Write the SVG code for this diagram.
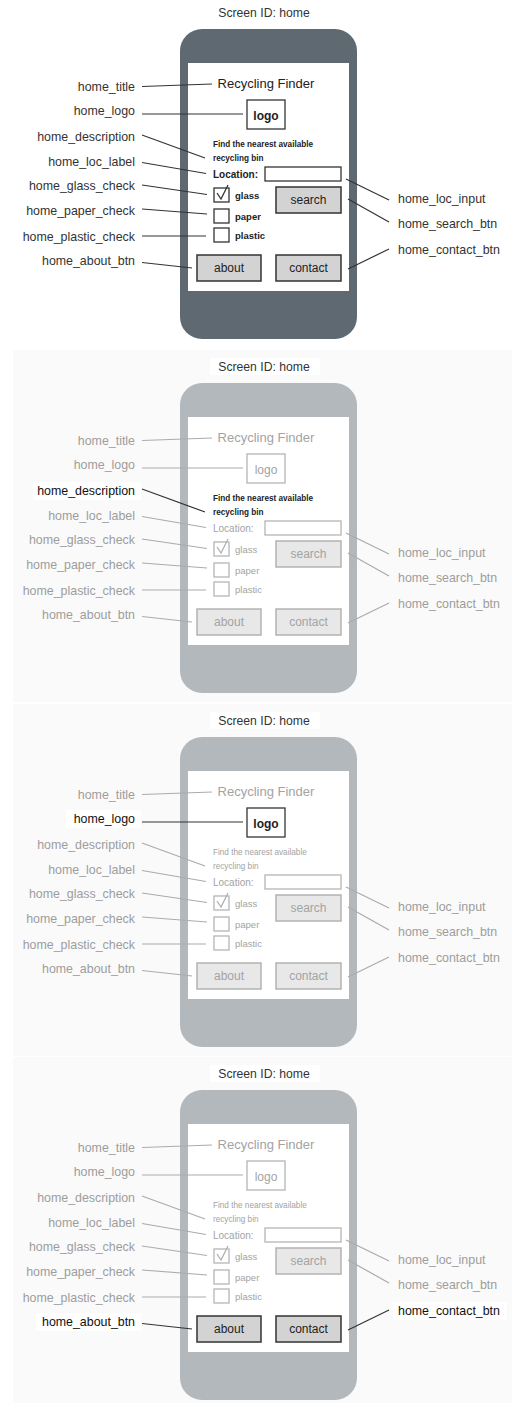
<svg xmlns="http://www.w3.org/2000/svg" width="512" height="1403" viewBox="0 0 512 1403">
<style>
.bg{fill:#fafafa}
.wh{fill:#fff}
.phone{fill:#5e6971}
.phone.d{fill:#b3b8bc}
.screen{fill:#fff}
.sid{font-family:"Liberation Sans",Arial,sans-serif;font-size:12.2px;fill:#333;text-anchor:middle}
.lbl{font-family:"Liberation Sans",Arial,sans-serif;font-size:12.4px;fill:#333}
.lbl.d{fill:#9d9d9d}
.r{text-anchor:end}
.c{stroke:#333;stroke-width:1.2;fill:none}
.c.d{stroke:#ababab}
.ui{font-family:"Comic Sans MS","Liberation Sans",sans-serif;fill:#222}
.ui.d{fill:#a3a3a3}
.m{text-anchor:middle}
.b{font-weight:bold}
.t13{font-size:13px}
.t12{font-size:12px}
.t10{font-size:10px}
.t9{font-size:9.5px}
.t8{font-size:8.2px}
.box{fill:#fff;stroke:#333;stroke-width:1.3}
.box.d{stroke:#b5b5b5}
.tick{fill:none;stroke:#333;stroke-width:1.3}
.tick.d{stroke:#b0b0b0}
.btn{fill:#d3d3d3;stroke:#333;stroke-width:1.5}
.btn.d{fill:#e8e8e8;stroke:#b3b3b3}
</style>

<!-- Panel 1 -->
<g id="panel1">
  <g id="p1-screen_id"><text class="sid" x="264" y="17">Screen ID: home</text></g>
  <g id="p1-phone"><rect class="phone" x="180" y="29" width="177" height="310" rx="22"/><rect class="screen" x="188" y="63" width="161" height="228"/></g>
  <g id="p1-ui_title"><text class="ui m t13" x="266" y="88">Recycling Finder</text></g>
  <g id="p1-ui_logo"><rect class="box" x="247" y="100" width="38" height="29"/><text class="ui m t12 b" x="266" y="120">logo</text></g>
  <g id="p1-ui_description"><text class="ui t8 b" x="213" y="146.5">Find the nearest available</text><text class="ui t8 b" x="213" y="160.5">recycling bin</text></g>
  <g id="p1-ui_loc_label"><text class="ui t10 b" x="213" y="177.5">Location:</text></g>
  <g id="p1-ui_loc_input"><rect class="box" x="265" y="167" width="76" height="14"/></g>
  <g id="p1-ui_glass"><rect class="box" x="214" y="188" width="15" height="14"/><path class="tick" d="M217,193 L221,199 L228,185"/><text class="ui t9 b" x="235" y="198.5">glass</text></g>
  <g id="p1-ui_paper"><rect class="box" x="214" y="209" width="15" height="14"/><text class="ui t9 b" x="235" y="219.5">paper</text></g>
  <g id="p1-ui_plastic"><rect class="box" x="214" y="228" width="15" height="14"/><text class="ui t9 b" x="235" y="239">plastic</text></g>
  <g id="p1-ui_search"><rect class="btn" x="276" y="187" width="65" height="26"/><text class="ui m t12" x="308.5" y="204">search</text></g>
  <g id="p1-ui_about"><rect class="btn" x="197" y="255" width="64" height="26"/><text class="ui m t12" x="229" y="272">about</text></g>
  <g id="p1-ui_contact"><rect class="btn" x="276" y="255" width="65" height="26"/><text class="ui m t12" x="308.5" y="272">contact</text></g>
  <g id="p1-home_title"><text class="lbl r" x="135" y="91">home_title</text></g>
  <g id="p1-home_logo"><text class="lbl r" x="135" y="115">home_logo</text></g>
  <g id="p1-home_description"><text class="lbl r" x="135" y="141">home_description</text></g>
  <g id="p1-home_loc_label"><text class="lbl r" x="135" y="166">home_loc_label</text></g>
  <g id="p1-home_glass_check"><text class="lbl r" x="135" y="190">home_glass_check</text></g>
  <g id="p1-home_paper_check"><text class="lbl r" x="135" y="215">home_paper_check</text></g>
  <g id="p1-home_plastic_check"><text class="lbl r" x="135" y="241">home_plastic_check</text></g>
  <g id="p1-home_about_btn"><text class="lbl r" x="135" y="265">home_about_btn</text></g>
  <g id="p1-home_loc_input"><text class="lbl" x="398" y="203">home_loc_input</text></g>
  <g id="p1-home_search_btn"><text class="lbl" x="398" y="228">home_search_btn</text></g>
  <g id="p1-home_contact_btn"><text class="lbl" x="398" y="254">home_contact_btn</text></g>
  <g id="p1-connectors">
    <path class="c" d="M142,86.5 L212,84"/>
    <path class="c" d="M142,114 L243,114"/>
    <path class="c" d="M142,135 L205,158"/>
    <path class="c" d="M142,162.5 L206,173.5"/>
    <path class="c" d="M142,185 L207,194.5"/>
    <path class="c" d="M142,209 L207,214"/>
    <path class="c" d="M142,236 L206,236"/>
    <path class="c" d="M142,262.5 L192,268"/>
    <path class="c" d="M346,179 L389,200"/>
    <path class="c" d="M348,199 L389,222"/>
    <path class="c" d="M348,269 L389,249"/>
  </g>
</g>

<!-- Panel 2: home_description highlighted -->
<g id="panel2" transform="translate(0,354)">
  <rect class="bg" x="13" y="-4" width="499" height="352"/>
  <g id="p2-screen_id"><rect class="wh" x="210" y="4" width="110" height="17"/><text class="sid" x="264" y="17">Screen ID: home</text></g>
  <g id="p2-phone"><rect class="phone d" x="180" y="29" width="177" height="310" rx="22"/><rect class="screen" x="188" y="63" width="161" height="228"/></g>
  <g id="p2-ui_title"><text class="ui d m t13" x="266" y="88">Recycling Finder</text></g>
  <g id="p2-ui_logo"><rect class="box d" x="247" y="100" width="38" height="29"/><text class="ui d m t12" x="266" y="120">logo</text></g>
  <g id="p2-ui_description"><text class="ui t8 b" x="213" y="146.5">Find the nearest available</text><text class="ui t8 b" x="213" y="160.5">recycling bin</text></g>
  <g id="p2-ui_loc_label"><text class="ui d t10" x="213" y="177.5">Location:</text></g>
  <g id="p2-ui_loc_input"><rect class="box d" x="265" y="167" width="76" height="14"/></g>
  <g id="p2-ui_glass"><rect class="box d" x="214" y="188" width="15" height="14"/><path class="tick d" d="M217,193 L221,199 L228,185"/><text class="ui d t9" x="235" y="198.5">glass</text></g>
  <g id="p2-ui_paper"><rect class="box d" x="214" y="209" width="15" height="14"/><text class="ui d t9" x="235" y="219.5">paper</text></g>
  <g id="p2-ui_plastic"><rect class="box d" x="214" y="228" width="15" height="14"/><text class="ui d t9" x="235" y="239">plastic</text></g>
  <g id="p2-ui_search"><rect class="btn d" x="276" y="187" width="65" height="26"/><text class="ui d m t12" x="308.5" y="204">search</text></g>
  <g id="p2-ui_about"><rect class="btn d" x="197" y="255" width="64" height="26"/><text class="ui d m t12" x="229" y="272">about</text></g>
  <g id="p2-ui_contact"><rect class="btn d" x="276" y="255" width="65" height="26"/><text class="ui d m t12" x="308.5" y="272">contact</text></g>
  <g id="p2-home_title"><text class="lbl d r" x="135" y="91">home_title</text></g>
  <g id="p2-home_logo"><text class="lbl d r" x="135" y="115">home_logo</text></g>
  <g id="p2-home_description"><rect class="wh" x="33" y="128" width="108" height="18"/><text class="lbl r" x="135" y="141" style="fill:#111">home_description</text></g>
  <g id="p2-home_loc_label"><text class="lbl d r" x="135" y="166">home_loc_label</text></g>
  <g id="p2-home_glass_check"><text class="lbl d r" x="135" y="190">home_glass_check</text></g>
  <g id="p2-home_paper_check"><text class="lbl d r" x="135" y="215">home_paper_check</text></g>
  <g id="p2-home_plastic_check"><text class="lbl d r" x="135" y="241">home_plastic_check</text></g>
  <g id="p2-home_about_btn"><text class="lbl d r" x="135" y="265">home_about_btn</text></g>
  <g id="p2-home_loc_input"><text class="lbl d" x="398" y="203">home_loc_input</text></g>
  <g id="p2-home_search_btn"><text class="lbl d" x="398" y="228">home_search_btn</text></g>
  <g id="p2-home_contact_btn"><text class="lbl d" x="398" y="254">home_contact_btn</text></g>
  <g id="p2-connectors">
    <path class="c d" d="M142,86.5 L212,84"/>
    <path class="c d" d="M142,114 L243,114"/>
    <path class="c" d="M142,135 L205,158"/>
    <path class="c d" d="M142,162.5 L206,173.5"/>
    <path class="c d" d="M142,185 L207,194.5"/>
    <path class="c d" d="M142,209 L207,214"/>
    <path class="c d" d="M142,236 L206,236"/>
    <path class="c d" d="M142,262.5 L192,268"/>
    <path class="c d" d="M346,179 L389,200"/>
    <path class="c d" d="M348,199 L389,222"/>
    <path class="c d" d="M348,269 L389,249"/>
  </g>
</g>

<!-- Panel 3: home_logo highlighted -->
<g id="panel3" transform="translate(0,708)">
  <rect class="bg" x="13" y="-4" width="499" height="352"/>
  <g id="p3-screen_id"><rect class="wh" x="210" y="4" width="110" height="17"/><text class="sid" x="264" y="17">Screen ID: home</text></g>
  <g id="p3-phone"><rect class="phone d" x="180" y="29" width="177" height="310" rx="22"/><rect class="screen" x="188" y="63" width="161" height="228"/></g>
  <g id="p3-ui_title"><text class="ui d m t13" x="266" y="88">Recycling Finder</text></g>
  <g id="p3-ui_logo"><rect class="box" x="247" y="100" width="38" height="29"/><text class="ui m t12 b" x="266" y="120">logo</text></g>
  <g id="p3-ui_description"><text class="ui d t8" x="213" y="146.5">Find the nearest available</text><text class="ui d t8" x="213" y="160.5">recycling bin</text></g>
  <g id="p3-ui_loc_label"><text class="ui d t10" x="213" y="177.5">Location:</text></g>
  <g id="p3-ui_loc_input"><rect class="box d" x="265" y="167" width="76" height="14"/></g>
  <g id="p3-ui_glass"><rect class="box d" x="214" y="188" width="15" height="14"/><path class="tick d" d="M217,193 L221,199 L228,185"/><text class="ui d t9" x="235" y="198.5">glass</text></g>
  <g id="p3-ui_paper"><rect class="box d" x="214" y="209" width="15" height="14"/><text class="ui d t9" x="235" y="219.5">paper</text></g>
  <g id="p3-ui_plastic"><rect class="box d" x="214" y="228" width="15" height="14"/><text class="ui d t9" x="235" y="239">plastic</text></g>
  <g id="p3-ui_search"><rect class="btn d" x="276" y="187" width="65" height="26"/><text class="ui d m t12" x="308.5" y="204">search</text></g>
  <g id="p3-ui_about"><rect class="btn d" x="197" y="255" width="64" height="26"/><text class="ui d m t12" x="229" y="272">about</text></g>
  <g id="p3-ui_contact"><rect class="btn d" x="276" y="255" width="65" height="26"/><text class="ui d m t12" x="308.5" y="272">contact</text></g>
  <g id="p3-home_title"><text class="lbl d r" x="135" y="91">home_title</text></g>
  <g id="p3-home_logo"><rect class="wh" x="66" y="102" width="75" height="18"/><text class="lbl r" x="135" y="115" style="fill:#111">home_logo</text></g>
  <g id="p3-home_description"><text class="lbl d r" x="135" y="141">home_description</text></g>
  <g id="p3-home_loc_label"><text class="lbl d r" x="135" y="166">home_loc_label</text></g>
  <g id="p3-home_glass_check"><text class="lbl d r" x="135" y="190">home_glass_check</text></g>
  <g id="p3-home_paper_check"><text class="lbl d r" x="135" y="215">home_paper_check</text></g>
  <g id="p3-home_plastic_check"><text class="lbl d r" x="135" y="241">home_plastic_check</text></g>
  <g id="p3-home_about_btn"><text class="lbl d r" x="135" y="265">home_about_btn</text></g>
  <g id="p3-home_loc_input"><text class="lbl d" x="398" y="203">home_loc_input</text></g>
  <g id="p3-home_search_btn"><text class="lbl d" x="398" y="228">home_search_btn</text></g>
  <g id="p3-home_contact_btn"><text class="lbl d" x="398" y="254">home_contact_btn</text></g>
  <g id="p3-connectors">
    <path class="c d" d="M142,86.5 L212,84"/>
    <path class="c" d="M142,114 L243,114"/>
    <path class="c d" d="M142,135 L205,158"/>
    <path class="c d" d="M142,162.5 L206,173.5"/>
    <path class="c d" d="M142,185 L207,194.5"/>
    <path class="c d" d="M142,209 L207,214"/>
    <path class="c d" d="M142,236 L206,236"/>
    <path class="c d" d="M142,262.5 L192,268"/>
    <path class="c d" d="M346,179 L389,200"/>
    <path class="c d" d="M348,199 L389,222"/>
    <path class="c d" d="M348,269 L389,249"/>
  </g>
</g>

<!-- Panel 4: about and contact highlighted -->
<g id="panel4" transform="translate(0,1061)">
  <rect class="bg" x="13" y="-4" width="499" height="346"/>
  <g id="p4-screen_id"><rect class="wh" x="210" y="4" width="110" height="17"/><text class="sid" x="264" y="17">Screen ID: home</text></g>
  <g id="p4-phone"><rect class="phone d" x="180" y="29" width="177" height="310" rx="22"/><rect class="screen" x="188" y="63" width="161" height="228"/></g>
  <g id="p4-ui_title"><text class="ui d m t13" x="266" y="88">Recycling Finder</text></g>
  <g id="p4-ui_logo"><rect class="box d" x="247" y="100" width="38" height="29"/><text class="ui d m t12" x="266" y="120">logo</text></g>
  <g id="p4-ui_description"><text class="ui d t8" x="213" y="146.5">Find the nearest available</text><text class="ui d t8" x="213" y="160.5">recycling bin</text></g>
  <g id="p4-ui_loc_label"><text class="ui d t10" x="213" y="177.5">Location:</text></g>
  <g id="p4-ui_loc_input"><rect class="box d" x="265" y="167" width="76" height="14"/></g>
  <g id="p4-ui_glass"><rect class="box d" x="214" y="188" width="15" height="14"/><path class="tick d" d="M217,193 L221,199 L228,185"/><text class="ui d t9" x="235" y="198.5">glass</text></g>
  <g id="p4-ui_paper"><rect class="box d" x="214" y="209" width="15" height="14"/><text class="ui d t9" x="235" y="219.5">paper</text></g>
  <g id="p4-ui_plastic"><rect class="box d" x="214" y="228" width="15" height="14"/><text class="ui d t9" x="235" y="239">plastic</text></g>
  <g id="p4-ui_search"><rect class="btn d" x="276" y="187" width="65" height="26"/><text class="ui d m t12" x="308.5" y="204">search</text></g>
  <g id="p4-ui_about"><rect class="btn" x="197" y="255" width="64" height="26"/><text class="ui m t12" x="229" y="272">about</text></g>
  <g id="p4-ui_contact"><rect class="btn" x="276" y="255" width="65" height="26"/><text class="ui m t12" x="308.5" y="272">contact</text></g>
  <g id="p4-home_title"><text class="lbl d r" x="135" y="91">home_title</text></g>
  <g id="p4-home_logo"><text class="lbl d r" x="135" y="115">home_logo</text></g>
  <g id="p4-home_description"><text class="lbl d r" x="135" y="141">home_description</text></g>
  <g id="p4-home_loc_label"><text class="lbl d r" x="135" y="166">home_loc_label</text></g>
  <g id="p4-home_glass_check"><text class="lbl d r" x="135" y="190">home_glass_check</text></g>
  <g id="p4-home_paper_check"><text class="lbl d r" x="135" y="215">home_paper_check</text></g>
  <g id="p4-home_plastic_check"><text class="lbl d r" x="135" y="241">home_plastic_check</text></g>
  <g id="p4-home_about_btn"><rect class="wh" x="36" y="252" width="105" height="18"/><text class="lbl r" x="135" y="265" style="fill:#111">home_about_btn</text></g>
  <g id="p4-home_loc_input"><text class="lbl d" x="398" y="203">home_loc_input</text></g>
  <g id="p4-home_search_btn"><text class="lbl d" x="398" y="228">home_search_btn</text></g>
  <g id="p4-home_contact_btn"><rect class="wh" x="393" y="241" width="114" height="18"/><text class="lbl" x="398" y="254" style="fill:#111">home_contact_btn</text></g>
  <g id="p4-connectors">
    <path class="c d" d="M142,86.5 L212,84"/>
    <path class="c d" d="M142,114 L243,114"/>
    <path class="c d" d="M142,135 L205,158"/>
    <path class="c d" d="M142,162.5 L206,173.5"/>
    <path class="c d" d="M142,185 L207,194.5"/>
    <path class="c d" d="M142,209 L207,214"/>
    <path class="c d" d="M142,236 L206,236"/>
    <path class="c" d="M142,262.5 L192,268"/>
    <path class="c d" d="M346,179 L389,200"/>
    <path class="c d" d="M348,199 L389,222"/>
    <path class="c" d="M348,269 L389,249"/>
  </g>
</g>
</svg>
